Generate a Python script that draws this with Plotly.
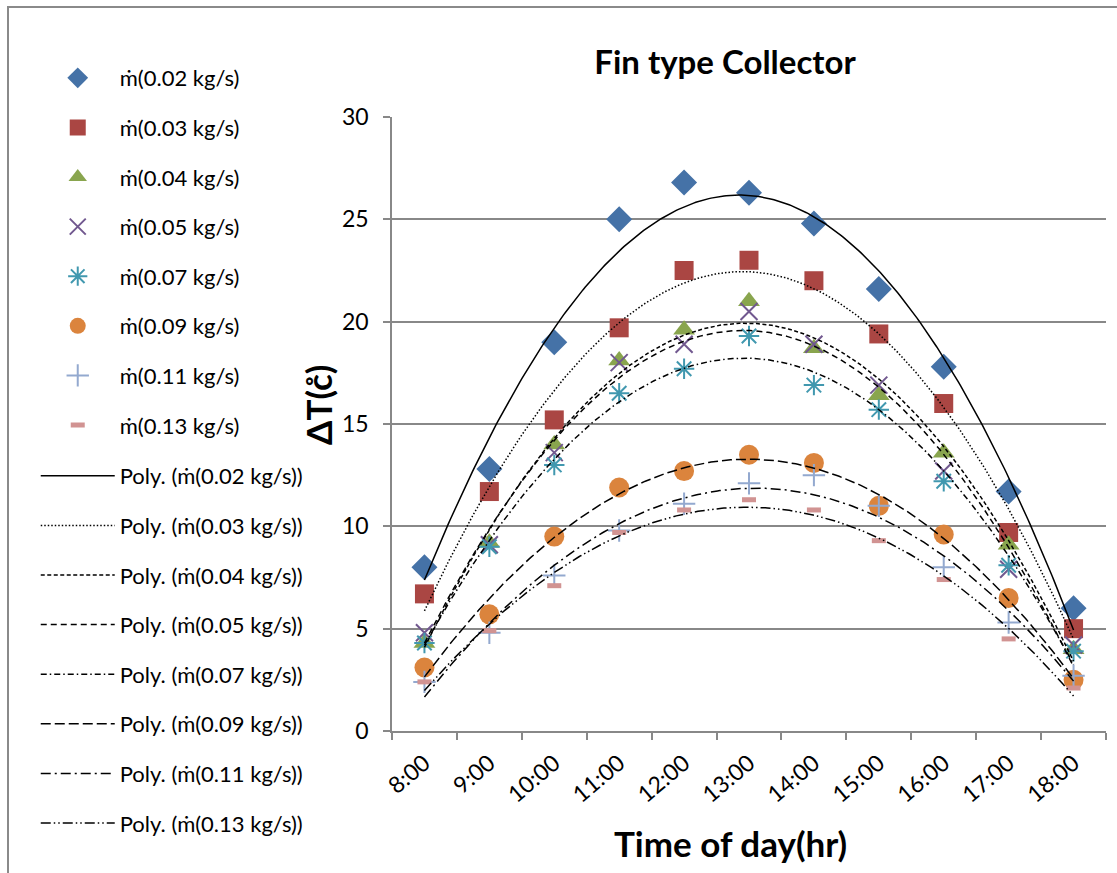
import numpy as np
import plotly.graph_objects as go

times = ["8:00", "9:00", "10:00", "11:00", "12:00", "13:00", "14:00", "15:00", "16:00", "17:00", "18:00"]

m002 = [8.0, 12.8, 19.0, 25.0, 26.8, 26.3, 24.8, 21.6, 17.8, 11.7, 6.0]
m003 = [6.7, 11.7, 15.2, 19.7, 22.5, 23.0, 22.0, 19.4, 16.0, 9.7, 5.0]
m004 = [4.3, 9.2, 14.0, 18.1, 19.6, 21.0, 18.7, 16.4, 13.6, 9.1, 4.0]
m005 = [4.8, 9.1, 13.6, 18.0, 18.9, 20.5, 18.9, 16.9, 12.7, 7.9, 4.2]
m007 = [4.3, 9.0, 13.0, 16.5, 17.7, 19.3, 16.9, 15.7, 12.2, 8.1, 3.9]
m009 = [3.1, 5.7, 9.5, 11.9, 12.7, 13.5, 13.1, 11.0, 9.6, 6.5, 2.5]
m011 = [2.4, 4.8, 7.6, 9.8, 11.1, 12.1, 12.5, 11.0, 8.0, 5.3, 2.7]
m013 = [2.4, 4.9, 7.1, 9.7, 10.8, 11.3, 10.8, 9.3, 7.4, 4.5, 2.1]

labels = ["ṁ(0.02 kg/s)", "ṁ(0.03 kg/s)", "ṁ(0.04 kg/s)", "ṁ(0.05 kg/s)",
          "ṁ(0.07 kg/s)", "ṁ(0.09 kg/s)", "ṁ(0.11 kg/s)", "ṁ(0.13 kg/s)"]
series = [m002, m003, m004, m005, m007, m009, m011, m013]

colors = ["#4572A7", "#AA4643", "#89A54E", "#71588F", "#4198AF", "#DB843D", "#93A9CF", "#D19392"]
symbols = ["diamond", "square", "triangle-up", "x-thin-open", "asterisk-open", "circle", "cross-thin-open", "line-ew-open"]
sizes = [20, 19, 19, 17, 17, 20, 16, 10]
dashes = ["solid", "1.5px,2px", "4px,2.5px", "6px,4px", "6px,3px,1.5px,3px",
          "10px,4px", "10px,4px,2px,4px", "10px,3px,1.5px,3px,1.5px,3px"]

FONT = "Lato, 'Noto Sans', sans-serif"

x_idx = np.arange(1, len(times) + 1)
xs = np.linspace(1, len(times), 300)

fig = go.Figure()

for i, (lab, ys) in enumerate(zip(labels, series)):
    open_sym = symbols[i].endswith("open")
    marker = dict(symbol=symbols[i], size=sizes[i], color=colors[i])
    if open_sym:
        lw = 5 if symbols[i] == "line-ew-open" else 2
        marker["line"] = dict(color=colors[i], width=lw)
    else:
        marker["line"] = dict(width=0)
    fig.add_trace(go.Scatter(x=x_idx, y=ys, mode="markers", name=lab, marker=marker,
                             legendgroup=f"m{i}", legend="legend"))

for i, (lab, ys) in enumerate(zip(labels, series)):
    c = np.polyfit(x_idx, ys, 2)
    fig.add_trace(go.Scatter(x=xs, y=np.polyval(c, xs), mode="lines", name=f"Poly. ({lab})",
                             line=dict(color="black", width=1.5, dash=dashes[i]),
                             legendgroup=f"l{i}", legend="legend2"))

LEG_FONT = dict(size=22, family=FONT, color="black")
GAP = 18

grid = "#888888"
fig.update_layout(
    width=1117, height=873,
    margin=dict(l=392, r=11, t=117, b=142),
    paper_bgcolor="white", plot_bgcolor="white",
    font=dict(family=FONT, size=23, color="black"),
    showlegend=True,
    legend=dict(xref="container", yref="container", x=0.032, y=1 - 57 / 873,
                xanchor="left", yanchor="top", font=LEG_FONT,
                itemwidth=74, tracegroupgap=GAP, bgcolor="rgba(0,0,0,0)"),
    legend2=dict(xref="container", yref="container", x=0.032, y=1 - 455 / 873,
                 xanchor="left", yanchor="top", font=LEG_FONT,
                 itemwidth=74, tracegroupgap=GAP, bgcolor="rgba(0,0,0,0)"),
    title=dict(text="<b>Fin type Collector</b>", xref="container", yref="container",
               x=725 / 1117, y=1 - 62 / 873, xanchor="center", yanchor="middle",
               font=dict(size=33, family=FONT)),
    xaxis=dict(range=[0.5, len(times) + 0.5], tickmode="array", tickvals=list(x_idx), ticktext=times,
               tickangle=-40, ticks="", showgrid=False, zeroline=False,
               showline=True, linecolor=grid, linewidth=1.5, ticklabelstandoff=8,
               minor=dict(tickmode="array", tickvals=list(np.arange(0.5, len(times) + 1, 1.0)),
                          ticks="outside", ticklen=7, tickcolor=grid, tickwidth=1.5, showgrid=False),
               tickfont=dict(size=23)),
    yaxis=dict(range=[0, 30], dtick=5, ticks="outside", ticklen=7, tickcolor=grid, tickwidth=1.5,
               showgrid=True, gridcolor=grid, gridwidth=1.5, zeroline=False, ticklabelstandoff=10,
               showline=True, linecolor=grid, linewidth=1.5, tickfont=dict(size=23)),
    annotations=[
        dict(text="<b>Time of day(hr)</b>", xref="paper", yref="paper",
             x=(730 - 392) / 714, y=(731 - 843) / 614, showarrow=False,
             xanchor="center", yanchor="middle", font=dict(size=35, family=FONT)),
        dict(text="<b>ΔT(c\u030a)</b>", xref="paper", yref="paper",
             x=(318 - 392) / 714, y=(731 - 405) / 614, showarrow=False, textangle=-90,
             xanchor="center", yanchor="middle", font=dict(size=35, family=FONT)),
    ],
    shapes=[dict(type="rect", xref="paper", yref="paper",
                 x0=(8 - 392) / 714, x1=1.05, y0=-0.3, y1=(731 - 7) / 614,
                 line=dict(color="#8a8a8a", width=2), fillcolor="rgba(0,0,0,0)", layer="below")],
)

fig.write_html("out.html")
